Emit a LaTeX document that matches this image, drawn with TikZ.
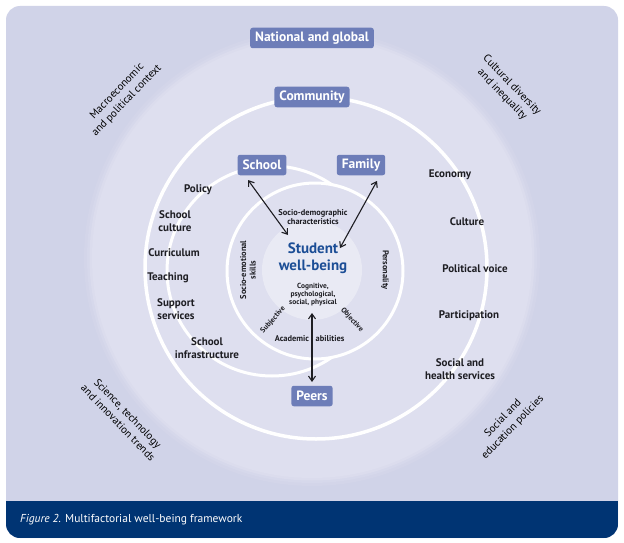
\documentclass[tikz,border=0pt]{standalone}
\usepackage{fontspec}
\setmainfont{PT Sans}
\usetikzlibrary{arrows.meta}
\definecolor{panel}{RGB}{208,211,232}
\definecolor{disk}{RGB}{222,223,239}
\definecolor{core}{RGB}{233,234,244}
\definecolor{lab}{RGB}{109,125,184}
\definecolor{navy}{RGB}{0,52,115}
\definecolor{swb}{RGB}{28,78,150}
\definecolor{ink}{RGB}{30,30,35}
\tikzset{
  tag/.style={fill=lab, text=white, font=\bfseries\fontsize{13.5}{14}\selectfont, rounded corners=2.5pt, inner xsep=5pt, inner ysep=0pt, minimum height=20.5pt},
  item/.style={font=\bfseries\fontsize{11}{13}\selectfont, align=center, text=ink, inner sep=0pt},
  inner/.style={font=\bfseries\fontsize{8.4}{9.6}\selectfont, align=center, text=ink, inner sep=0pt},
  tiny/.style={font=\bfseries\fontsize{7.4}{8}\selectfont, align=center, text=ink, inner sep=0pt},
  ctx/.style={font=\fontsize{10.8}{13.5}\selectfont, align=center, text=black, inner sep=0pt},
  ring/.style={draw=white, line width=3pt},
  link/.style={{Straight Barb[length=5pt,width=7pt]}-{Straight Barb[length=5pt,width=7pt]}, line width=1.1pt, draw=ink}
}
\begin{document}
\begin{tikzpicture}[x=1pt,y=-1pt]
\useasboundingbox (0,0) rectangle (624,543);
\fill[white] (0,0) rectangle (624,543);
% panel and caption bar
\fill[panel, rounded corners=14pt] (6,6) rectangle (618,538);
\begin{scope}
  \clip[rounded corners=14pt] (6,6) rectangle (618,538);
  \fill[navy] (6,501) rectangle (618,538);
\end{scope}
% big disk with soft edge
\fill[disk!20!panel] (312,258) circle (228);
\fill[disk!45!panel] (312,258) circle (225);
\fill[disk!75!panel] (312,258) circle (222.5);
\fill[disk] (312,258) circle (220);
% rings
\draw[ring, line width=3.5pt] (316,268) circle (171);
\draw[ring] (272,271) circle (105);
\filldraw[ring, fill=disk] (315,271) circle (88);
\fill[core] (312,270) circle (50);
% labels
\node[tag] (natl) at (312,38) {National and global};
\node[tag] (comm) at (312,97) {Community};
\node[tag] (school) at (262,165) {School};
\node[tag] (family) at (361,165) {Family};
\node[tag] (peers) at (312,396) {Peers};
% centre
\node[font=\bfseries\fontsize{15}{16.5}\selectfont, text=swb, align=center, inner sep=0pt] (swb) at (313,258) {Student\\well-being};
\node[tiny] (cog) at (313,295) {Cognitive,\\psychological,\\social, physical};
\node[inner] (socdem) at (313,217) {Socio-demographic\\characteristics};
\node[inner, rotate=90] (socemo) at (248,270) {Socio-emotional\\skills};
\node[inner, rotate=-90] (pers) at (385,270) {Personality};
\node[tiny, rotate=48] (subj) at (273,320) {Subjective};
\node[tiny, rotate=-48] (obj) at (352,320) {Objective};
\node[inner] (acad) at (292,339) {Academic};
\node[inner] (abil) at (330,339) {abilities};
% arrows
\coordinate (sa) at (248,180);
\coordinate (sb) at (288,235);
\coordinate (fa) at (377,181);
\coordinate (fb) at (340,248);
\coordinate (pa) at (312,313);
\coordinate (pb) at (312,382);
\draw[link] (sa) -- (sb);
\draw[link] (fa) -- (fb);
\draw[link] (pa) -- (pb);
% school items
\node[item] (policy) at (198,190) {Policy};
\node[item] (sculture) at (175,221) {School\\culture};
\node[item] (curr) at (174,253) {Curriculum};
\node[item] (teach) at (168,278) {Teaching};
\node[item] (support) at (176,309) {Support\\services};
\node[item] (infra) at (207,348) {School\\infrastructure};
% community items
\node[item] (econ) at (450,175) {Economy};
\node[item] (cult) at (467,222) {Culture};
\node[item] (polv) at (475,269) {Political voice};
\node[item] (part) at (469,316) {Participation};
\node[item] (health) at (460,369) {Social and\\health services};
% context
\node[ctx, rotate=46] (macro) at (122,96) {Macroeconomic\\and political context};
\node[ctx, rotate=-46] (cultd) at (507,90) {Cultural diversity\\and inequality};
\node[ctx, rotate=-46] (sci) at (123,418) {Science, technology\\and innovation trends};
\node[ctx, rotate=46] (socpol) at (508,423) {Social and\\education policies};
% caption
\node[anchor=west, text=white, font=\fontsize{11.5}{13}\selectfont, inner sep=0pt] (cap) at (20,520) {\textit{Figure 2.} Multifactorial well-being framework};
\end{tikzpicture}
\end{document}
